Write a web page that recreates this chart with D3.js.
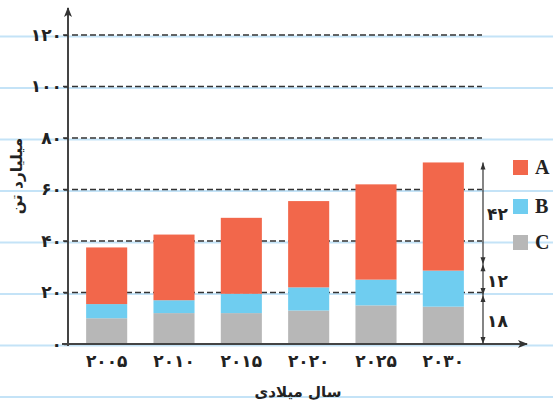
<!DOCTYPE html>
<html><head><meta charset="utf-8">
<script src="https://cdn.jsdelivr.net/npm/d3@7"></script>
<style>
body{margin:0;background:#fff;}
svg{display:block;}
</style></head>
<body>
<svg id="chart" width="553" height="405"></svg>
<script>
// ---- data ----
const years = ["2005","2010","2015","2020","2025","2030"];
const yearLabels = ["۲۰۰۵","۲۰۱۰","۲۰۱۵","۲۰۲۰","۲۰۲۵","۲۰۳۰"];
const seriesC = [10, 12, 12, 13, 15, 14.5];
const seriesB = [5.5, 5, 7.5, 9, 10, 14];
const seriesA = [22, 25.5, 29.5, 33.5, 37, 42];
const seriesNames = ["A","B","C"];
const yTicks = [0,20,40,60,80,100,120];
const yTickLabels = ["۰","۲۰","۴۰","۶۰","۸۰","۱۰۰","۱۲۰"];
const annotBreaks = [0, 19, 31, 70.5];
const annotLabels = ["۱۸","۱۲","۴۲"];
const yTitle = "میلیارد تن";
const xTitle = "سال میلادی";

// ---- setup ----
const svg = d3.select("#chart");
const W = 553, H = 405;
const x0 = 68, yBase = 344, yTop = 35;
const colors = {A:"#f2674b", B:"#6fcdf0", C:"#b7b7b7"};
const font = "'DejaVu Sans','Noto Sans',sans-serif";

const x = d3.scaleBand().domain(years).range([73, 477]).paddingInner(0.39).paddingOuter(0.195);
const y = d3.scaleLinear().domain([0,120]).range([yBase, yTop]);

// notebook blue lines
const blueVals = [-20,0,20,40,60,80,100,120];
svg.append("g").selectAll("line").data(blueVals).join("line")
  .attr("x1",0).attr("x2",W)
  .attr("y1",d=>y(d)+1.5).attr("y2",d=>y(d)+1.5)
  .attr("stroke","#c4e3f7").attr("stroke-width",2);

// gridlines
svg.append("g").selectAll("line").data(yTicks.filter(d=>d>0)).join("line")
  .attr("x1",63).attr("x2",482)
  .attr("y1",d=>y(d)).attr("y2",d=>y(d))
  .attr("stroke","#333").attr("stroke-width",1.4)
  .attr("stroke-dasharray","6,3");

// stacked bars
const rows = years.map((yr,i)=>({year:yr, C:seriesC[i], B:seriesB[i], A:seriesA[i]}));
const stack = d3.stack().keys(["C","B","A"])(rows);
svg.append("g").selectAll("g").data(stack).join("g")
  .attr("fill",d=>colors[d.key])
  .selectAll("rect").data(d=>d).join("rect")
  .attr("x",d=>x(d.data.year))
  .attr("width",x.bandwidth())
  .attr("y",d=>y(d[1]))
  .attr("height",d=>y(d[0])-y(d[1]));

// markers
const defs = svg.append("defs");
defs.append("marker").attr("id","arr").attr("viewBox","0 0 10 10")
  .attr("refX",9).attr("refY",5).attr("markerWidth",10).attr("markerHeight",10)
  .attr("markerUnits","userSpaceOnUse").attr("orient","auto")
  .append("path").attr("d","M0,1 L10,5 L0,9 L2.5,5 Z").attr("fill","#333");

// y axis line
svg.append("line").attr("x1",x0).attr("x2",x0).attr("y1",yBase+2).attr("y2",8)
  .attr("stroke","#444").attr("stroke-width",2).attr("marker-end","url(#arr)");
// y tick labels
const yAxis = d3.axisLeft(y).tickValues(yTicks).tickSize(4).tickPadding(2)
  .tickFormat((d,i)=>yTickLabels[i]);
const gy = svg.append("g").attr("transform",`translate(${x0},0)`).call(yAxis);
gy.select(".domain").remove();
gy.selectAll(".tick line").attr("stroke","#333").attr("stroke-width",1.4);
gy.selectAll("text").attr("font-family",font).attr("font-weight","bold")
  .attr("font-size",17).attr("fill","#222");

// x axis line
svg.append("line").attr("x1",62).attr("x2",527).attr("y1",yBase).attr("y2",yBase)
  .attr("stroke","#444").attr("stroke-width",2).attr("marker-end","url(#arr)");
const xAxis = d3.axisBottom(x).tickSize(0).tickPadding(11).tickFormat((d,i)=>yearLabels[i]);
const gx = svg.append("g").attr("transform",`translate(0,${yBase})`).call(xAxis);
gx.select(".domain").remove();
gx.selectAll("text").attr("font-family",font).attr("font-weight","bold")
  .attr("font-size",17).attr("fill","#222");

// axis titles
svg.append("text").attr("x",298).attr("y",397).attr("text-anchor","middle")
  .attr("font-family",font).attr("font-weight","bold").attr("font-size",15)
  .attr("fill","#222").attr("direction","rtl").text(xTitle);
svg.append("text").attr("transform","translate(22,176) rotate(-90)")
  .attr("text-anchor","middle")
  .attr("font-family",font).attr("font-weight","bold").attr("font-size",15.5)
  .attr("fill","#222").attr("direction","rtl").text(yTitle);

// annotation on the right
const ax = 483;
const ag = svg.append("g");
ag.append("line").attr("x1",ax).attr("x2",ax)
  .attr("y1",y(annotBreaks[0])).attr("y2",y(annotBreaks[annotBreaks.length-1]))
  .attr("stroke","#333").attr("stroke-width",1.2);
for(let i=0;i<annotBreaks.length-1;i++){
  const yb = y(annotBreaks[i]), yt = y(annotBreaks[i+1]);
  ag.append("path").attr("d",`M${ax-2.5},${yb-7} L${ax+2.5},${yb-7} L${ax},${yb} Z`).attr("fill","#333");
  ag.append("path").attr("d",`M${ax-2.5},${yt+7} L${ax+2.5},${yt+7} L${ax},${yt} Z`).attr("fill","#333");
  ag.append("text").attr("x",ax+4).attr("y",(yb+yt)/2+7)
    .attr("font-family",font).attr("font-weight","bold").attr("font-size",17)
    .attr("fill","#222").text(annotLabels[i]);
}

// legend
const legY = [160, 199, 235];
const lg = svg.append("g");
seriesNames.forEach((n,i)=>{
  lg.append("rect").attr("x",513).attr("y",legY[i]).attr("width",15).attr("height",15)
    .attr("fill",colors[n]);
  lg.append("text").attr("x",535).attr("y",legY[i]+14)
    .attr("font-family","'Liberation Serif','DejaVu Serif',serif").attr("font-weight","bold")
    .attr("font-size",20).attr("fill","#222").text(n);
});
</script>
</body></html>
